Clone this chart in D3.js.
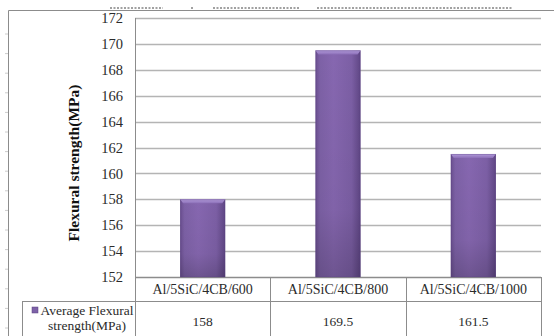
<!DOCTYPE html>
<html>
<head>
<meta charset="utf-8">
<script src="https://cdn.jsdelivr.net/npm/d3@7"></script>
<style>
  html, body { margin: 0; padding: 0; background: #fff; }
  svg { display: block; }
  svg text { font-family: "Liberation Serif", "Times New Roman", serif; }
</style>
</head>
<body>
<svg id="chart" width="554" height="336"></svg>
<script>
// Flexural strength of Al/5SiC/4CB composites by sintering temperature
const categories = ["Al/5SiC/4CB/600", "Al/5SiC/4CB/800", "Al/5SiC/4CB/1000"];
const strengthValues = [158, 169.5, 161.5];
const valueLabels = ["158", "169.5", "161.5"];
const yTicks = [152, 154, 156, 158, 160, 162, 164, 166, 168, 170, 172];
const seriesName = ["Average Flexural", "strength(MPa)"];
const axisTitle = "Flexural strength(MPa)";

const svg = d3.select("#chart");
const W = 554, H = 336;
const plot = { left: 135, right: 541, top: 18, bottom: 277 };
const tableRowY = 301;
const legendLeft = 22;

const y = d3.scaleLinear().domain([152, 172]).range([plot.bottom, plot.top]);
const x = d3.scaleBand().domain(categories).range([plot.left, plot.right]).padding(0);

const defs = svg.append("defs");
// horizontal shading across each bar
const g1 = defs.append("linearGradient").attr("id", "barShade").attr("x1", 0).attr("x2", 1).attr("y1", 0).attr("y2", 0);
[["0%", "#6a4f8f"], ["10%", "#7d61a6"], ["40%", "#8667b0"], ["80%", "#7c5fa5"], ["100%", "#5f4684"]]
  .forEach(([o, c]) => g1.append("stop").attr("offset", o).attr("stop-color", c));
// vertical darkening towards the base
const g2 = defs.append("linearGradient").attr("id", "barDepth").attr("x1", 0).attr("x2", 0).attr("y1", 0).attr("y2", 1);
[["0%", "#000", 0], ["70%", "#000", 0.04], ["100%", "#000", 0.18]]
  .forEach(([o, c, a]) => g2.append("stop").attr("offset", o).attr("stop-color", c).attr("stop-opacity", a));
const capGrad = defs.append("linearGradient").attr("id", "barCap").attr("x1", 0).attr("x2", 0).attr("y1", 0).attr("y2", 1);
[["0%", "#b39ddb"], ["100%", "#8c6fb8"]]
  .forEach(([o, c]) => capGrad.append("stop").attr("offset", o).attr("stop-color", c));

// trimmed remains of the caption line above the chart frame
const captionRuns = [[110, 163], [191, 193], [213, 300], [317, 513]];
svg.append("g").selectAll("line").data(captionRuns).join("line")
  .attr("x1", d => d[0]).attr("x2", d => d[1]).attr("y1", 8).attr("y2", 8)
  .attr("stroke", "#444").attr("stroke-width", 1.2).attr("stroke-dasharray", "2,1.5");

// page margin marks on the left edge
svg.append("g").selectAll("line").data(d3.range(0, 17)).join("line")
  .attr("x1", 5).attr("x2", 8).attr("y1", d => 34 + d * 19.6).attr("y2", d => 34 + d * 19.6)
  .attr("stroke", "#ccc").attr("stroke-width", 1);

// chart frame
svg.append("path").attr("d", `M8.5,${H}V10.5H${W}`).attr("fill", "none").attr("stroke", "#8c8c8c").attr("stroke-width", 1);

// gridlines
svg.append("g").selectAll("line").data(yTicks).join("line")
  .attr("x1", plot.left).attr("x2", plot.right)
  .attr("y1", d => Math.round(y(d)) + 0.5).attr("y2", d => Math.round(y(d)) + 0.5)
  .attr("stroke", d => d === 152 ? "#8c8c8c" : "#b4b4b4").attr("stroke-width", 1.3);

// value axis labels
const yAxis = d3.axisLeft(y).tickValues(yTicks).tickSize(0).tickPadding(12).tickFormat(d3.format("d"));
const ag = svg.append("g").attr("transform", `translate(${plot.left},0)`).call(yAxis)
  .attr("font-family", "Liberation Serif, serif");
ag.select(".domain").attr("stroke", "#8c8c8c");
ag.selectAll("text").attr("font-size", 14.5).attr("fill", "#2b2b2b");

// axis title
svg.append("text")
  .attr("transform", `translate(79,163) rotate(-90)`)
  .attr("text-anchor", "middle").attr("font-size", 15.5).attr("font-weight", "bold").attr("fill", "#111")
  .text(axisTitle);

// bars
const barW = x.bandwidth() / 3;
const bars = svg.append("g").selectAll("g").data(strengthValues).join("g");
bars.append("rect")
  .attr("x", (d, i) => x(categories[i]) + (x.bandwidth() - barW) / 2)
  .attr("y", d => y(d)).attr("width", barW).attr("height", d => y(152) - y(d))
  .attr("fill", "url(#barShade)");
bars.append("rect")
  .attr("x", (d, i) => x(categories[i]) + (x.bandwidth() - barW) / 2)
  .attr("y", d => y(d)).attr("width", barW).attr("height", d => y(152) - y(d))
  .attr("fill", "url(#barDepth)");
bars.append("path")
  .attr("d", (d, i) => {
    const x0 = x(categories[i]) + (x.bandwidth() - barW) / 2, y0 = y(d);
    return `M${x0},${y0}H${x0 + barW}L${x0 + barW - 3},${y0 + 4}H${x0 + 3}Z`;
  })
  .attr("fill", "url(#barCap)");
bars.append("rect")
  .attr("x", (d, i) => x(categories[i]) + (x.bandwidth() - barW) / 2 + 0.5)
  .attr("y", d => y(d) + 0.5).attr("width", barW - 1).attr("height", d => y(152) - y(d) - 0.5)
  .attr("fill", "none").attr("stroke", "#5a4080").attr("stroke-opacity", 0.35);

// data table
const tbl = svg.append("g").attr("stroke", "#8c8c8c").attr("stroke-width", 1);
[plot.left, ...categories.map(c => x(c) + x.bandwidth())].forEach(xx => {
  tbl.append("line").attr("x1", Math.round(xx) + 0.5).attr("x2", Math.round(xx) + 0.5)
    .attr("y1", xx === plot.left ? plot.top : plot.bottom).attr("y2", H);
});
tbl.append("line").attr("x1", legendLeft + 0.5).attr("x2", legendLeft + 0.5).attr("y1", tableRowY).attr("y2", H);
tbl.append("line").attr("x1", legendLeft).attr("x2", plot.right + 1).attr("y1", tableRowY + 0.5).attr("y2", tableRowY + 0.5);

svg.append("g").selectAll("text").data(categories).join("text")
  .attr("x", d => x(d) + x.bandwidth() / 2).attr("y", 294)
  .attr("text-anchor", "middle").attr("font-size", 14).attr("fill", "#2b2b2b").text(d => d);

svg.append("g").selectAll("text").data(valueLabels).join("text")
  .attr("x", (d, i) => x(categories[i]) + x.bandwidth() / 2).attr("y", 326)
  .attr("text-anchor", "middle").attr("font-size", 13.5).attr("fill", "#2b2b2b").text(d => d);

// legend key and series name
svg.append("rect").attr("x", 32).attr("y", 307).attr("width", 6).attr("height", 6)
  .attr("fill", "#7e62a8").attr("stroke", "#5a4080").attr("stroke-width", 0.5);
svg.append("text").attr("x", 87).attr("y", 314.5).attr("text-anchor", "middle")
  .attr("font-size", 13.5).attr("fill", "#2b2b2b").text(seriesName[0]);
svg.append("text").attr("x", 87).attr("y", 329.5).attr("text-anchor", "middle")
  .attr("font-size", 13.5).attr("fill", "#2b2b2b").text(seriesName[1]);
</script>
</body>
</html>
